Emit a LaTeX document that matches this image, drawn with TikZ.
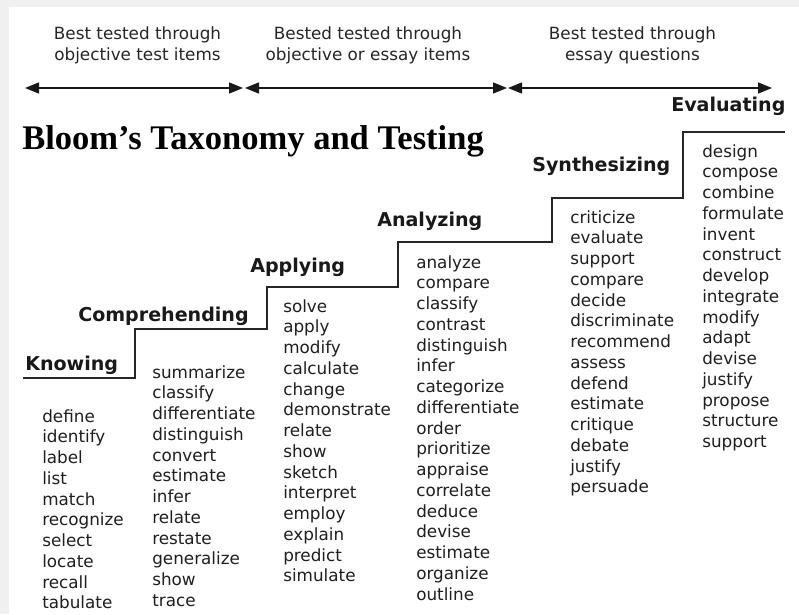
\documentclass[tikz,border=0pt]{standalone}
\usepackage{fontspec}
\setmainfont{DejaVu Sans}
\newfontfamily\titlefont{Liberation Serif}
\usetikzlibrary{arrows.meta}
\begin{document}
\begin{tikzpicture}[x=0.75pt,y=-0.75pt,
  word/.style={anchor=base west, inner sep=0pt, font=\fontsize{12.6pt}{15pt}\selectfont, text=black!88},
  lvl/.style={anchor=base west, inner sep=0pt, font=\fontsize{14.3pt}{17pt}\selectfont\bfseries, text=black!90},
  hdr/.style={anchor=base, inner sep=0pt, font=\fontsize{12.6pt}{15pt}\selectfont, text=black!85},
  stair/.style={line width=1.1pt, draw=black!85, line join=miter},
  spanarrow/.style={line width=1.1pt, draw=black!90, {Triangle[length=10.5pt,width=8.25pt]}-{Triangle[length=10.5pt,width=8.25pt]}}]
\useasboundingbox (0,0) rectangle (799,614);
\fill[white] (0,0) rectangle (799,614);
\fill[black!6] (0,0) rectangle (799,7);
\fill[black!6] (0,0) rectangle (9,614);

% headers
\node[hdr] (h1a) at (137.5,39.5) {Best tested through};
\node[hdr] (h1b) at (137.5,60.5) {objective test items};
\node[hdr] (h2a) at (368,39.5) {Bested tested through};
\node[hdr] (h2b) at (368,60.5) {objective or essay items};
\node[hdr] (h3a) at (632.5,39.5) {Best tested through};
\node[hdr] (h3b) at (632.5,60.5) {essay questions};

% span arrows
\coordinate (a1l) at (25,88);  \coordinate (a1r) at (243,88);
\coordinate (a2l) at (245,88); \coordinate (a2r) at (507,88);
\coordinate (a3l) at (508,88); \coordinate (a3r) at (772,88);
\draw[spanarrow] (a1l) -- (a1r);
\draw[spanarrow] (a2l) -- (a2r);
\draw[spanarrow] (a3l) -- (a3r);

% title
\node[anchor=base west, inner sep=0pt, font=\titlefont\fontsize{25.9pt}{30pt}\selectfont\bfseries, text=black] (title) at (22,149) {Bloom’s Taxonomy and Testing};

% staircase
\draw[stair] (23,378) -- (135,378) -- (135,329) -- (267,329) -- (267,287) -- (398,287) -- (398,242) -- (552,242) -- (552,198) -- (683,198) -- (683,132) -- (785,132);

% level labels
\node[lvl] (knowing) at (25,370.5) {Knowing};
\node[lvl] (compr) at (78,321.5) {Comprehending};
\node[lvl] (apply) at (250,272.5) {Applying};
\node[lvl] (analyz) at (377,226) {Analyzing};
\node[lvl] (synth) at (532,171) {Synthesizing};
\node[lvl] (evalu) at (671,111) {Evaluating};

% word columns
\foreach \w [count=\i from 0] in {define,identify,label,list,match,recognize,select,locate,recall,tabulate}
  \node[word] (c1-\i) at (42,{422+20.75*\i}) {\w};
\foreach \w [count=\i from 0] in {summarize,classify,differentiate,distinguish,convert,estimate,infer,relate,restate,generalize,show,trace}
  \node[word] (c2-\i) at (152,{378+20.75*\i}) {\w};
\foreach \w [count=\i from 0] in {solve,apply,modify,calculate,change,demonstrate,relate,show,sketch,interpret,employ,explain,predict,simulate}
  \node[word] (c3-\i) at (283,{312+20.75*\i}) {\w};
\foreach \w [count=\i from 0] in {analyze,compare,classify,contrast,distinguish,infer,categorize,differentiate,order,prioritize,appraise,correlate,deduce,devise,estimate,organize,outline}
  \node[word] (c4-\i) at (416,{268+20.75*\i}) {\w};
\foreach \w [count=\i from 0] in {criticize,evaluate,support,compare,decide,discriminate,recommend,assess,defend,estimate,critique,debate,justify,persuade}
  \node[word] (c5-\i) at (570,{223+20.75*\i}) {\w};
\foreach \w [count=\i from 0] in {design,compose,combine,formulate,invent,construct,develop,integrate,modify,adapt,devise,justify,propose,structure,support}
  \node[word] (c6-\i) at (702,{157+20.75*\i}) {\w};
\end{tikzpicture}
\end{document}
